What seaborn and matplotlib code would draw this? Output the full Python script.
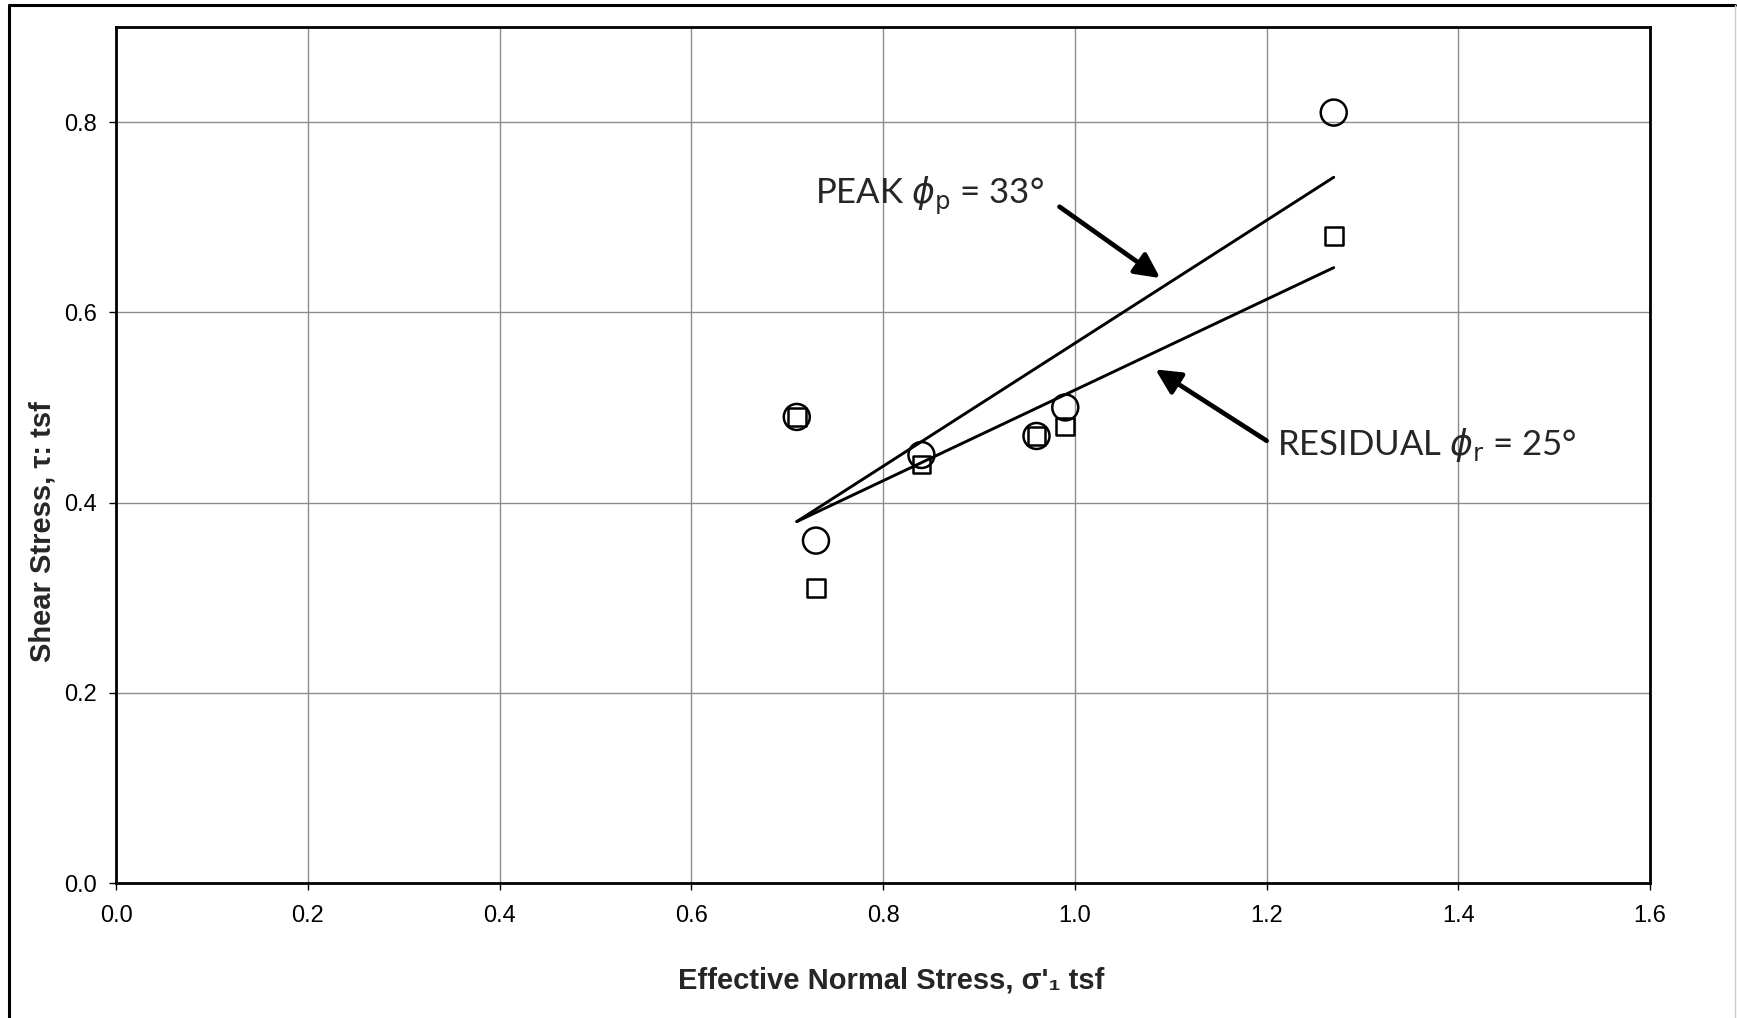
import pandas as pd
import matplotlib
matplotlib.use("Agg")
import matplotlib.pyplot as plt
from matplotlib.lines import Line2D
import seaborn as sns

# Direct shear test results (tsf)
normal_stress = [0.71, 0.73, 0.84, 0.96, 0.99, 1.27]
peak_shear = [0.49, 0.36, 0.45, 0.47, 0.50, 0.81]
residual_shear = [0.49, 0.31, 0.44, 0.47, 0.48, 0.68]

# Strength envelope end points
fit_x = [0.71, 1.27]
peak_fit = [0.38, 0.742]
residual_fit = [0.38, 0.647]

x_ticks = [0.0, 0.2, 0.4, 0.6, 0.8, 1.0, 1.2, 1.4, 1.6]
y_ticks = [0.0, 0.2, 0.4, 0.6, 0.8]

pts = pd.DataFrame({"sigma": normal_stress, "peak": peak_shear, "residual": residual_shear})
fits = pd.DataFrame({"sigma": fit_x, "peak": peak_fit, "residual": residual_fit})

sns.set_style("ticks")
plt.rcParams["font.family"] = ["Liberation Sans", "DejaVu Sans"]

fig = plt.figure(figsize=(17.37, 10.18), dpi=100)
ax = fig.add_axes([0.0668, 0.1326, 0.8832, 0.8409])

# Fitted envelopes
sns.lineplot(data=fits, x="sigma", y="peak", ax=ax, color="black", lw=2.1)
sns.lineplot(data=fits, x="sigma", y="residual", ax=ax, color="black", lw=2.1)

# Test points
sns.scatterplot(data=pts, x="sigma", y="peak", ax=ax, marker="o", s=350,
                facecolor="none", edgecolor="black", linewidth=1.8, zorder=3)
sns.scatterplot(data=pts, x="sigma", y="residual", ax=ax, marker="s", s=165,
                facecolor="none", edgecolor="black", linewidth=1.8, zorder=3)

ax.set_xlim(0, 1.6)
ax.set_ylim(0, 0.9)
ax.set_xticks(x_ticks)
ax.set_yticks(y_ticks)
ax.set_xticklabels([f"{t:.1f}" for t in x_ticks])
ax.set_yticklabels([f"{t:.1f}" for t in y_ticks])
ax.grid(True, color="#8c8c8c", lw=1.0)
ax.tick_params(axis="both", direction="out", length=5, width=1, labelsize=17,
               color="black", labelcolor="black")
ax.tick_params(axis="x", pad=11)
ax.tick_params(axis="y", pad=9)
for sp in ax.spines.values():
    sp.set_visible(True)
    sp.set_color("black")
    sp.set_linewidth(2.0)

ax.set_xlabel("Effective Normal Stress, σ'₁ tsf", fontsize=21, fontweight="bold")
ax.set_ylabel("Shear Stress, τ: tsf", fontsize=21, fontweight="bold")
ax.xaxis.set_label_coords(0.505, -0.098)
ax.yaxis.set_label_coords(-0.039, 0.41)

arrow = dict(arrowstyle="-|>,head_length=0.5,head_width=0.25", lw=3.4, color="black",
             mutation_scale=30, shrinkA=0, shrinkB=0)
ax.annotate("", xy=(1.089, 0.636), xytext=(0.984, 0.711), arrowprops=arrow)
ax.annotate("", xy=(1.084, 0.540), xytext=(1.200, 0.465), arrowprops=arrow)

ax.text(0.729, 0.722, r"PEAK $\phi_{\mathrm{p}}$ = 33°", fontsize=25,
        family=["Lato", "DejaVu Sans"], va="center", ha="left")
ax.text(1.211, 0.461, r"RESIDUAL $\phi_{\mathrm{r}}$ = 25°", fontsize=25,
        family=["Lato", "DejaVu Sans"], va="center", ha="left")

# Outer border of the scanned figure
fig.add_artist(Line2D([0.0052, 0.0052], [0.0, 0.995], transform=fig.transFigure, color="black", lw=2.2))
fig.add_artist(Line2D([0.0052, 0.9989], [0.995, 0.995], transform=fig.transFigure, color="black", lw=2.2))
fig.add_artist(Line2D([0.9989, 0.9989], [0.0, 0.995], transform=fig.transFigure, color="#cccccc", lw=1.0))

fig.savefig("out.png", dpi=100)
